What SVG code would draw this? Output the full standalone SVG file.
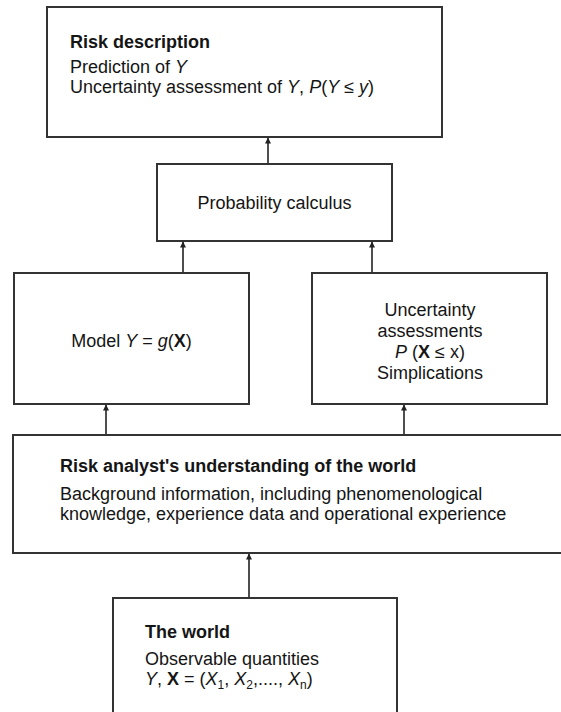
<svg xmlns="http://www.w3.org/2000/svg" width="561" height="712" viewBox="0 0 561 712">
  <style>
    .box { fill: #ffffff; stroke: #333333; stroke-width: 2; }
    .t { font-family: "Liberation Sans", Arial, sans-serif; font-size: 18px; fill: #151515; }
    .b { font-weight: bold; }
    .i { font-style: italic; }
    .m { text-anchor: middle; }
    .sub { font-size: 12px; }
    .link { stroke: #222222; stroke-width: 1.6; fill: none; marker-end: url(#head); }
  </style>
  <defs>
    <marker id="head" viewBox="0 0 10 10" refX="9" refY="5" markerWidth="8" markerHeight="6" markerUnits="userSpaceOnUse" orient="auto">
      <path d="M0,0 L10,5 L0,10 Z" fill="#222222"/>
    </marker>
  </defs>
  <rect width="561" height="712" fill="#ffffff"/>

  <g id="connectors">
    <line class="link" x1="268" y1="164" x2="268" y2="138"/>
    <line class="link" x1="183" y1="273" x2="183" y2="242"/>
    <line class="link" x1="372" y1="273" x2="372" y2="242"/>
    <line class="link" x1="106" y1="435" x2="106" y2="405"/>
    <line class="link" x1="404" y1="435" x2="404" y2="405"/>
    <line class="link" x1="249" y1="598" x2="249" y2="554"/>
  </g>

  <g id="risk-description">
    <rect class="box" x="47" y="7" width="395" height="130"/>
    <text class="t b" x="70" y="48">Risk description</text>
    <text class="t" x="70" y="73">Prediction of <tspan class="i">Y</tspan></text>
    <text class="t" x="70" y="93">Uncertainty assessment of <tspan class="i">Y</tspan>, <tspan class="i">P</tspan>(<tspan class="i">Y</tspan> ≤ <tspan class="i">y</tspan>)</text>
  </g>

  <g id="probability-calculus">
    <rect class="box" x="157" y="164" width="235" height="77"/>
    <text class="t m" x="274.5" y="209">Probability calculus</text>
  </g>

  <g id="model">
    <rect class="box" x="14" y="273" width="235" height="131"/>
    <text class="t m" x="131.5" y="347">Model <tspan class="i">Y</tspan> = <tspan class="i">g</tspan>(<tspan class="b">X</tspan>)</text>
  </g>

  <g id="uncertainty-assessments">
    <rect class="box" x="312" y="273" width="235" height="131"/>
    <text class="t m" x="430" y="316">Uncertainty</text>
    <text class="t m" x="430" y="337">assessments</text>
    <text class="t m" x="430" y="358"><tspan class="i">P</tspan> (<tspan class="b">X</tspan> ≤ x)</text>
    <text class="t m" x="430" y="379">Simplications</text>
  </g>

  <g id="understanding">
    <rect class="box" x="13" y="435" width="560" height="118"/>
    <text class="t b" x="60" y="472">Risk analyst's understanding of the world</text>
    <text class="t" x="60" y="500">Background information, including phenomenological</text>
    <text class="t" x="60" y="520">knowledge, experience data and operational experience</text>
  </g>

  <g id="the-world">
    <rect class="box" x="113" y="598" width="284" height="130"/>
    <text class="t b" x="145" y="638">The world</text>
    <text class="t" x="145" y="665">Observable quantities</text>
    <text class="t" x="145" y="685"><tspan class="i">Y</tspan>, <tspan class="b">X</tspan> = (<tspan class="i">X</tspan><tspan class="sub" dy="4">1</tspan><tspan dy="-4">, </tspan><tspan class="i">X</tspan><tspan class="sub" dy="4">2</tspan><tspan dy="-4">,...., </tspan><tspan class="i">X</tspan><tspan class="sub" dy="4">n</tspan><tspan dy="-4">)</tspan></text>
  </g>
</svg>
